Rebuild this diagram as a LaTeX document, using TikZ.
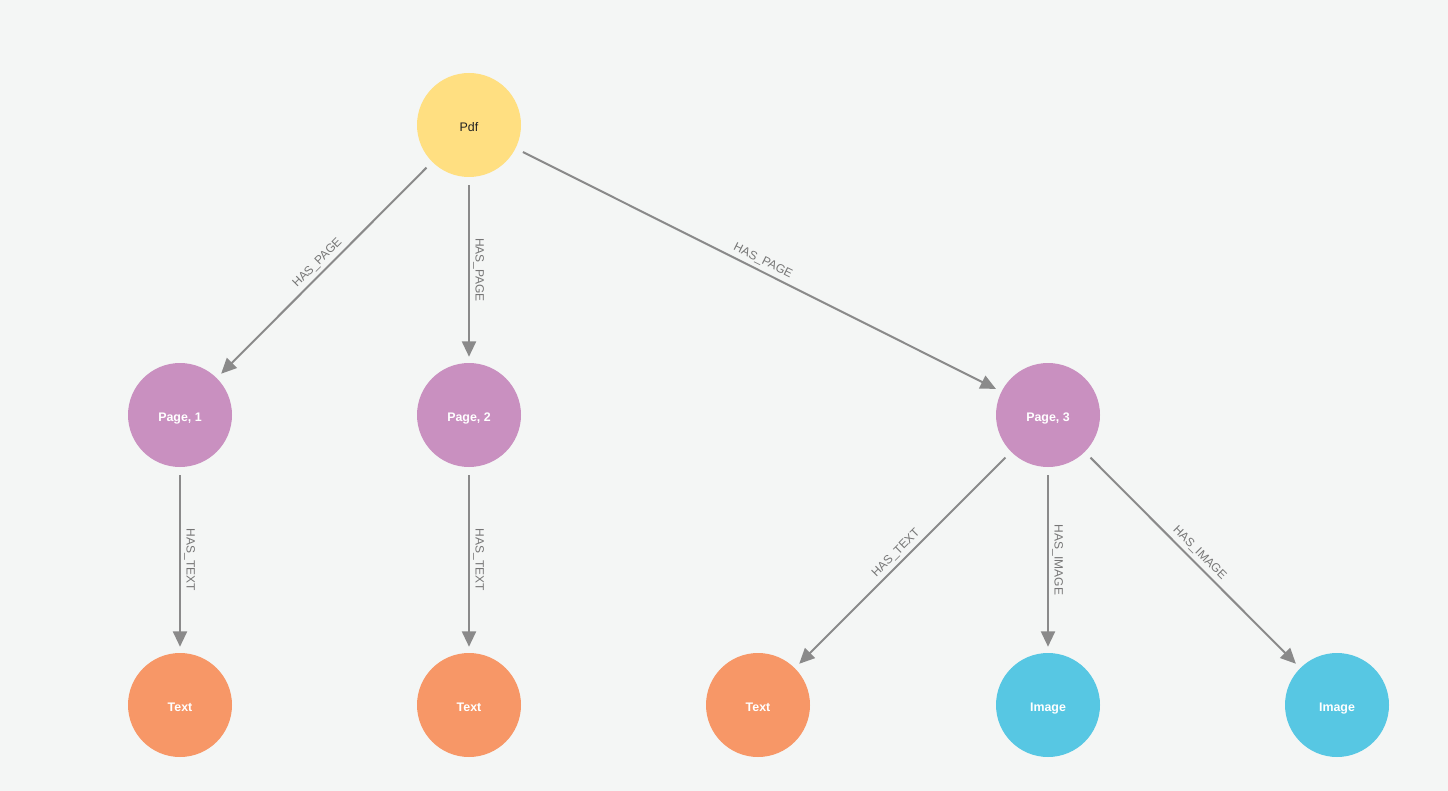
\documentclass[tikz,border=0pt]{standalone}
\usepackage{fontspec}
\setmainfont{Liberation Sans}
\usetikzlibrary{arrows.meta}
\definecolor{bg}{HTML}{F4F6F5}
\definecolor{pdfc}{HTML}{FFDF81}
\definecolor{pagec}{HTML}{C990C0}
\definecolor{textc}{HTML}{F79767}
\definecolor{imgc}{HTML}{57C7E3}
\definecolor{edgec}{HTML}{8A8A8A}
\definecolor{lblc}{HTML}{767676}
\definecolor{darktxt}{HTML}{222222}
\tikzset{
  gnode/.style={circle, minimum size=78pt, inner sep=0pt, text height=9.6pt, text depth=0pt,
    font=\fontsize{9.3pt}{11pt}\selectfont},
  pdfnode/.style={gnode, fill=pdfc, text=darktxt},
  pagenode/.style={gnode, fill=pagec, text=white, font=\fontsize{9.3pt}{11pt}\selectfont\bfseries},
  textnode/.style={gnode, fill=textc, text=white, font=\fontsize{9.3pt}{11pt}\selectfont\bfseries},
  imgnode/.style={gnode, fill=imgc, text=white, font=\fontsize{9.3pt}{11pt}\selectfont\bfseries},
  rel/.style={draw=edgec, line width=1.5pt, shorten <=6pt, shorten >=4.5pt,
    -{Triangle[length=11.5pt,width=10.5pt]}},
  lbl/.style={midway, anchor=south, inner sep=2.5pt, text=lblc, font=\fontsize{9pt}{10pt}\selectfont}
}
\begin{document}
\begin{tikzpicture}[x=0.75pt, y=-0.75pt]
\fill[bg] (0,0) rectangle (1448,791);
\useasboundingbox (0,0) rectangle (1448,791);

\node[pdfnode] (pdf) at (469,125) {Pdf};
\node[pagenode] (p1) at (180,415) {Page, 1};
\node[pagenode] (p2) at (469,415) {Page, 2};
\node[pagenode] (p3) at (1048,415) {Page, 3};
\node[textnode] (t1) at (180,705) {Text};
\node[textnode] (t2) at (469,705) {Text};
\node[textnode] (t3) at (758,705) {Text};
\node[imgnode] (i1) at (1048,705) {Image};
\node[imgnode] (i2) at (1337,705) {Image};

\draw[rel] (pdf) -- node[lbl, rotate=45] {HAS\_PAGE} (p1);
\draw[rel] (pdf) -- node[lbl, rotate=-90] {HAS\_PAGE} (p2);
\draw[rel] (pdf) -- node[lbl, rotate=-26.6] {HAS\_PAGE} (p3);
\draw[rel] (p1) -- node[lbl, rotate=-90] {HAS\_TEXT} (t1);
\draw[rel] (p2) -- node[lbl, rotate=-90] {HAS\_TEXT} (t2);
\draw[rel] (p3) -- node[lbl, rotate=45] {HAS\_TEXT} (t3);
\draw[rel] (p3) -- node[lbl, rotate=-90] {HAS\_IMAGE} (i1);
\draw[rel] (p3) -- node[lbl, rotate=-45] {HAS\_IMAGE} (i2);
\end{tikzpicture}
\end{document}
